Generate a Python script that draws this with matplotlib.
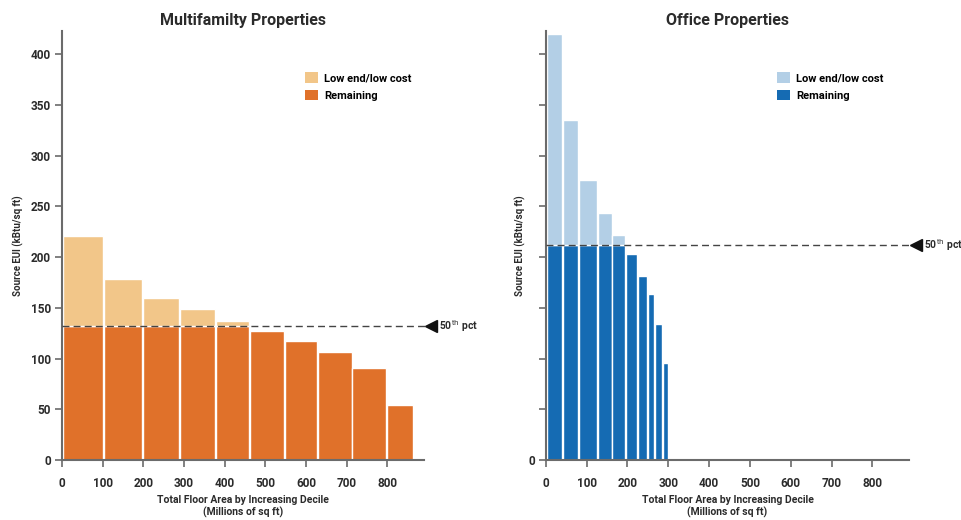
import numpy as np
import matplotlib
matplotlib.use("Agg")
import matplotlib.pyplot as plt
from matplotlib.patches import Patch

plt.rcParams['font.family'] = ['Roboto', 'DejaVu Sans']

# =========================
# DATA
# =========================
mf_edges = [0, 102, 197, 287, 377, 460, 547, 628, 712, 797, 863]
mf_eui = [221, 178, 160, 149, 137, 127, 117.5, 106, 91, 54]
mf_median = 132

off_edges = [0, 39, 79, 126, 161, 194, 224, 248, 266, 285, 300]
off_eui = [420, 335, 276, 244, 222, 203, 181, 164, 134, 96]
off_median = 212

x_ticks = [0, 100, 200, 300, 400, 500, 600, 700, 800]
y_ticks = [0, 50, 100, 150, 200, 250, 300, 350, 400]

AXIS_GRAY = "#6b6b6b"
TEXT = "#2b2b2b"


def draw_panel(ax, edges, eui, median, light, dark, title, show_ylabels):
    edges = np.array(edges, dtype=float)
    eui = np.array(eui, dtype=float)
    widths = np.diff(edges)
    remaining = np.minimum(eui, median)
    low_end = np.clip(eui - median, 0, None)

    ax.bar(edges[:-1] + 2, remaining, width=widths - 2, align="edge",
           color=dark, edgecolor="white", linewidth=1.0, zorder=2)
    ax.bar(edges[:-1] + 2, low_end, width=widths - 2, bottom=median, align="edge",
           color=light, edgecolor="white", linewidth=1.0, zorder=2)

    # median line + marker
    ax.plot([0, 896], [median, median], linestyle=(0, (5, 3)), color="#444444",
            linewidth=1.0, clip_on=False, zorder=3)
    ax.plot([907], [median], marker="<", markersize=8, color="#111111",
            clip_on=False, zorder=4)
    ax.text(926, median, "50$^{\\mathrm{th}}$ pct", fontsize=7.5, color=TEXT,
            va="center", ha="left", clip_on=False, fontweight="bold")

    ax.set_xlim(0, 890)
    ax.set_ylim(0, 423)
    ax.set_xticks(x_ticks)
    ax.set_xticklabels([str(t) for t in x_ticks], fontsize=8.5, color=TEXT,
                       fontweight="bold")
    ax.set_yticks(y_ticks)
    if show_ylabels:
        ax.set_yticklabels([str(t) for t in y_ticks], fontsize=8.5, color=TEXT,
                           fontweight="bold")
    else:
        ax.set_yticklabels(["0"] + [""] * (len(y_ticks) - 1), fontsize=8.5,
                           color=TEXT, fontweight="bold")
    ax.tick_params(axis="x", length=5, width=1.2, color=AXIS_GRAY, pad=7)
    ax.tick_params(axis="y", length=5, width=1.2, color=AXIS_GRAY, pad=3)

    for s in ["top", "right"]:
        ax.spines[s].set_visible(False)
    for s in ["left", "bottom"]:
        ax.spines[s].set_color(AXIS_GRAY)
        ax.spines[s].set_linewidth(1.5)

    ax.set_title(title, fontsize=11.5, color=TEXT, fontweight="bold", pad=4)
    ax.set_xlabel("Total Floor Area by Increasing Decile\n(Millions of sq ft)",
                  fontsize=7.5, color=TEXT, fontweight="bold", labelpad=4,
                  linespacing=1.2)
    ax.set_ylabel("Source EUI (kBtu/sq ft)", fontsize=7, color=TEXT,
                  fontweight="bold")

    handles = [Patch(facecolor=light, edgecolor="none", label="Low end/low cost"),
               Patch(facecolor=dark, edgecolor="none", label="Remaining")]
    return handles


fig = plt.figure(figsize=(9.61, 5.20), dpi=100)
ax1 = fig.add_axes([0.0645, 0.1154, 0.3767, 0.825])
ax2 = fig.add_axes([0.568, 0.1154, 0.378, 0.825])

h1 = draw_panel(ax1, mf_edges, mf_eui, mf_median, "#F2C689", "#E0712A",
                "Multifamilty Properties", True)
h2 = draw_panel(ax2, off_edges, off_eui, off_median, "#B3CFE6", "#156BB3",
                "Office Properties", False)

ax1.yaxis.set_label_coords(-0.105, 0.5)
ax2.yaxis.set_label_coords(-0.055, 0.5)

ax1.legend(handles=h1, loc="upper left", bbox_to_anchor=(0.66, 0.915),
           frameon=False, handlelength=1.1, handleheight=1.1,
           handletextpad=0.6, labelspacing=0.6, borderaxespad=0,
           prop={"weight": "bold", "size": 8})
ax2.legend(handles=h2, loc="upper left", bbox_to_anchor=(0.625, 0.915),
           frameon=False, handlelength=1.1, handleheight=1.1,
           handletextpad=0.6, labelspacing=0.6, borderaxespad=0,
           prop={"weight": "bold", "size": 8})

plt.savefig("out.png", dpi=100)
plt.close()
